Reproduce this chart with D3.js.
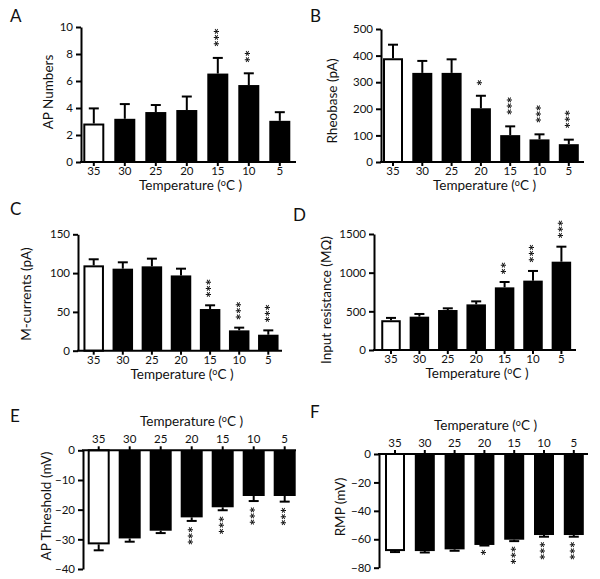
<!DOCTYPE html>
<html><head><meta charset="utf-8">
<script src="https://cdn.jsdelivr.net/npm/d3@7"></script>
<style>body{margin:0;background:#fff}svg{display:block}text{font-family:Lato,"Open Sans",sans-serif;fill:#111}.stars{filter:grayscale(1)}</style>
</head><body><svg id="c" width="600" height="579"></svg>
<script>
const temps = ["35","30","25","20","15","10","5"];

const apNumbers = [2.85,3.2,3.7,3.85,6.55,5.7,3.05];
const apNumbersErr = [1.12,1.09,0.52,1.0,1.16,0.87,0.64];
const apNumbersStars = ["","","","","***","**",""];
const apNumbersTicks = [0,2,4,6,8,10];

const rheobase = [390,335,335,202,101,85,67];
const rheobaseErr = [51,45,51,47,33,19,17];
const rheobaseStars = ["","","","*","***","***","***"];
const rheobaseTicks = [0,100,200,300,400,500];

const mCurrents = [110,105.7,108.7,97,53.7,26.2,20.6];
const mCurrentsErr = [7.8,8.2,9.9,8.7,4.8,3.5,5.6];
const mCurrentsStars = ["","","","","***","***","***"];
const mCurrentsTicks = [0,50,100,150];

const inputRes = [385,431,517,590,810,897,1142];
const inputResErr = [30,35,22,39,69,125,194];
const inputResStars = ["","","","","**","***","***"];
const inputResTicks = [0,500,1000,1500];

const apThreshold = [-31.7,-29.7,-27.1,-22.6,-19.2,-15.4,-15.4];
const apThresholdErr = [2.0,1.1,0.8,1.2,1.0,1.7,1.9];
const apThresholdStars = ["","","","***","***","***","***"];
const apThresholdTicks = [0,-10,-20,-30,-40];

const rmp = [-68.3,-68.3,-67.1,-64,-60.3,-57,-57];
const rmpErr = [0.7,1.0,1.0,0.4,1.0,1.2,1.2];
const rmpStars = ["","","","*","***","***","***"];
const rmpTicks = [0,-20,-40,-60,-80];

const svg = d3.select("#c");

const panels = [
 {letter:"A", lx:10, ly:22, vals:apNumbers, err:apNumbersErr, stars:apNumbersStars, ticks:apNumbersTicks,
  dom:[0,10], yr:[162,27], ax:81, xEnd:296, c0:93.8, step:31.0, bw:21, title:"AP Numbers", tx:48, ty:92, starGap:13.5, top:false},
 {letter:"B", lx:310, ly:22, vals:rheobase, err:rheobaseErr, stars:rheobaseStars, ticks:rheobaseTicks,
  dom:[0,500], yr:[162,29], ax:381, xEnd:584, c0:393, step:29.3, bw:20, title:"Rheobase (pA)", tx:332, ty:101, starGap:13.5, top:false},
 {letter:"C", lx:10, ly:215, vals:mCurrents, err:mCurrentsErr, stars:mCurrentsStars, ticks:mCurrentsTicks,
  dom:[0,150], yr:[350.7,234.3], ax:78, xEnd:282, c0:93.7, step:29.1, bw:20.5, title:"M-currents (pA)", tx:26, ty:294, starGap:10, top:false},
 {letter:"D", lx:293, ly:221, vals:inputRes, err:inputResErr, stars:inputResStars, ticks:inputResTicks,
  dom:[0,1500], yr:[350,234], ax:374, xEnd:576, c0:391, step:28.4, bw:19.5, title:"Input resistance (M\u03A9)", tx:326, ty:300, starGap:10.5, top:false},
 {letter:"E", lx:10, ly:422, vals:apThreshold, err:apThresholdErr, stars:apThresholdStars, ticks:apThresholdTicks,
  dom:[0,-40], yr:[450.3,569], ax:83, xEnd:296, c0:98.7, step:31.0, bw:22, title:"AP Threshold (mV)", tx:46, ty:506, starGap:7.3, top:true},
 {letter:"F", lx:310, ly:418, vals:rmp, err:rmpErr, stars:rmpStars, ticks:rmpTicks,
  dom:[0,-80], yr:[454,567.7], ax:379, xEnd:588, c0:395, step:29.8, bw:20, title:"RMP (mV)", tx:340, ty:507, starGap:6.5, top:true}
];

const STAR_STEP = 7.3;
const STAR_FS = 16;

panels.forEach(p => {
  const g = svg.append("g");
  const y = d3.scaleLinear().domain(p.dom).range(p.yr);
  const pi = 1 - p.bw / p.step;
  const r0 = p.c0 - p.step / 2;
  const x = d3.scaleBand().domain(temps).range([r0, r0 + 7 * p.step]).paddingInner(pi).paddingOuter(pi / 2);
  const y0 = y(0);

  g.append("text").attr("x", p.lx).attr("y", p.ly).attr("font-size", 17).text(p.letter);

  const rows = temps.map((t, i) => ({t, v:p.vals[i], e:p.err[i], s:p.stars[i], i}));
  g.selectAll("rect.bar").data(rows).join("rect")
    .attr("x", d => x(d.t) + (d.i === 0 ? 1 : 0))
    .attr("width", d => x.bandwidth() - (d.i === 0 ? 2 : 0))
    .attr("y", d => Math.min(y(d.v), y0) + (d.i === 0 && !p.top ? 1 : 0))
    .attr("height", d => Math.abs(y(d.v) - y0) - (d.i === 0 ? 1 : 0))
    .attr("fill", d => d.i === 0 ? "#fff" : "#000")
    .attr("stroke", "#000").attr("stroke-width", d => d.i === 0 ? 2 : 0);

  const sign = p.top ? -1 : 1;
  const eg = g.selectAll("g.err").data(rows).join("g");
  eg.append("line")
    .attr("x1", d => x(d.t) + x.bandwidth()/2).attr("x2", d => x(d.t) + x.bandwidth()/2)
    .attr("y1", d => y(d.v)).attr("y2", d => y(d.v + sign * d.e))
    .attr("stroke", "#000").attr("stroke-width", 2);
  eg.append("line")
    .attr("x1", d => x(d.t) + x.bandwidth()/2 - 5).attr("x2", d => x(d.t) + x.bandwidth()/2 + 5)
    .attr("y1", d => y(d.v + sign * d.e)).attr("y2", d => y(d.v + sign * d.e))
    .attr("stroke", "#000").attr("stroke-width", 2);

  // stars: one rotated text per bar, reading top-to-bottom
  const sg = g.append("g").attr("class", "stars");
  rows.filter(d => d.s.length).forEach(d => {
    const n = d.s.length;
    const ey = y(d.v + sign * d.e);
    const near = p.top ? ey + p.starGap : ey - p.starGap;
    const cy = p.top ? near + (n - 1) * STAR_STEP / 2 : near - (n - 1) * STAR_STEP / 2;
    const cx = x(d.t) + x.bandwidth()/2;
    sg.append("text").attr("transform", `translate(${cx},${cy}) rotate(90)`)
      .attr("text-anchor", "middle").attr("dy", "0.6em")
      .attr("font-size", STAR_FS).attr("font-weight", "bold")
      .attr("letter-spacing", (STAR_STEP - STAR_FS * 0.5) + "px")
      .attr("font-family", "DejaVu Sans").attr("fill", "#222").text(d.s);
  });

  const ya = g.append("g").attr("transform", `translate(${p.ax},0)`)
    .call(d3.axisLeft(y).tickValues(p.ticks).tickFormat(d3.format("d")).tickSize(5).tickSizeOuter(0).tickPadding(3));
  ya.select(".domain").attr("stroke-width", 2);
  ya.selectAll(".tick line").attr("stroke-width", 2);
  ya.selectAll(".tick text").attr("font-size", 11.5).attr("font-family", "Lato").attr("fill", "#111");

  g.append("line").attr("x1", p.ax - 1).attr("x2", p.xEnd).attr("y1", y0).attr("y2", y0)
    .attr("stroke", "#000").attr("stroke-width", 2);
  const xa = g.append("g").attr("transform", `translate(0,${y0})`)
    .call((p.top ? d3.axisTop(x) : d3.axisBottom(x)).tickSize(4).tickSizeOuter(0).tickPadding(p.top ? 3 : 1));
  xa.select(".domain").remove();
  xa.selectAll(".tick line").attr("stroke-width", 2);
  xa.selectAll(".tick text").attr("font-size", 11.5).attr("font-family", "Lato").attr("fill", "#111");

  const xc = (p.ax + p.xEnd) / 2 + 2;
  const xt = g.append("text").attr("x", xc)
    .attr("y", p.top ? y0 - 24 : y0 + 28).attr("text-anchor", "middle").attr("font-size", 13.5);
  xt.append("tspan").text("Temperature (");
  xt.append("tspan").attr("font-size", 9).attr("dy", -4).text("o");
  xt.append("tspan").attr("dy", 4).text("C )");

  g.append("text").attr("transform", `translate(${p.tx},${p.ty}) rotate(-90)`)
    .attr("text-anchor", "middle").attr("dy", "0.35em").attr("font-size", 13.5).text(p.title);
});
</script></body></html>
